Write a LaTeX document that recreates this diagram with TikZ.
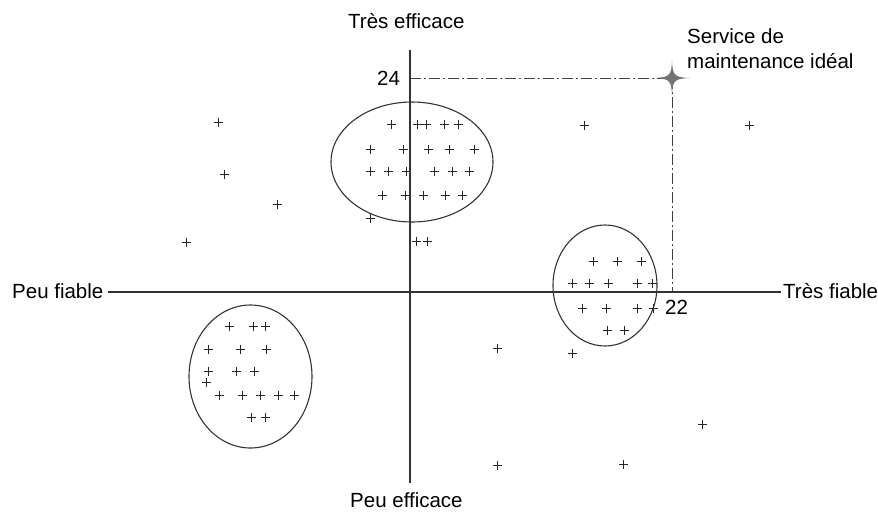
\documentclass[tikz,border=0pt]{standalone}
\usepackage{fontspec}
\setmainfont{Liberation Sans}
\begin{document}
\begin{tikzpicture}[x=1pt,y=-1pt,
  axis/.style={draw=black!80,line width=1.2pt},
  guide/.style={draw=black!75,line width=1pt,dash pattern=on 11pt off 3pt on 2pt off 3pt},
  cluster/.style={draw=black!80,line width=1.1pt},
  lbl/.style={inner sep=0pt,anchor=base west,font=\fontsize{20.5pt}{25pt}\selectfont},
  plusmark/.style={draw=black!85,line width=0.9pt}]
\useasboundingbox (0,0) rectangle (878,512);
% axes
\coordinate (vtop) at (410,50);
\coordinate (vbot) at (410,483);
\coordinate (hleft) at (108,292);
\coordinate (hright) at (781,292);
\draw[axis] (vtop) -- (vbot);
\draw[axis] (hleft) -- (hright);
% labels
\node[lbl] (tE) at (348,28) {Très efficace};
\node[lbl] (pE) at (350,507) {Peu efficace};
\node[lbl] (pF) at (12,298) {Peu fiable};
\node[lbl] (tF) at (783,298) {Très fiable};
\node[lbl] (n24) at (377,85) {24};
\node[lbl] (n22) at (665,314) {22};
\node[lbl,align=left,anchor=base west] (ideal) at (687,68) {Service de\\maintenance idéal};
% ideal point
\coordinate (star) at (672,78);
\coordinate (y24) at (410,78);
\coordinate (x22) at (672,292);
\draw[guide] (y24) -- (star);
\draw[guide] (star) -- (x22);
\begin{scope}[shift={(star)}]
\fill[black!55] (-18,0) .. controls (-2.5,-0.6) and (-0.6,-2.5) .. (0,-17)
  .. controls (0.6,-2.5) and (2.5,-0.6) .. (18,0)
  .. controls (2.5,0.6) and (0.6,2.5) .. (0,17)
  .. controls (-0.6,2.5) and (-2.5,0.6) .. (-18,0) -- cycle;
\end{scope}
% clusters
\coordinate (c1) at (412,162);
\coordinate (c2) at (250.5,376.5);
\coordinate (c3) at (605,285.5);
\draw[cluster] (c1) ellipse [x radius=81, y radius=60];
\draw[cluster] (c2) ellipse [x radius=61.5, y radius=71.5];
\draw[cluster] (c3) ellipse [x radius=52, y radius=60.5];
% points
\foreach \px/\py in {
  391/124, 417/124, 426/124, 444/124, 458/124,
  370/149, 403/149, 428/149, 449/149, 474/149,
  370/171, 388/171, 406/171, 434/171, 452/171, 469/171,
  382/195, 405/195, 423/195, 445/195, 462/195,
  370/218, 416/241, 427/241,
  218/122, 224/174, 277/204, 186/242, 584/125, 749/125,
  229/326, 253/326, 265/326,
  208/349, 240/349, 266/349,
  208/371, 236/371, 254/371, 206/382,
  219/395, 242/395, 260/395, 278/395, 294/395,
  251/417, 265/417,
  593/261, 617/261, 641/261,
  572/283, 589/283, 608/283, 637/283, 652/283,
  582/308, 606/308, 637/308, 653/308,
  607/330, 624/330,
  497/348, 572/353, 702/424, 497/465, 623/464}
  \draw[plusmark] (\px-4.5,\py) -- (\px+4.5,\py) (\px,\py-4.5) -- (\px,\py+4.5);
\end{tikzpicture}
\end{document}
